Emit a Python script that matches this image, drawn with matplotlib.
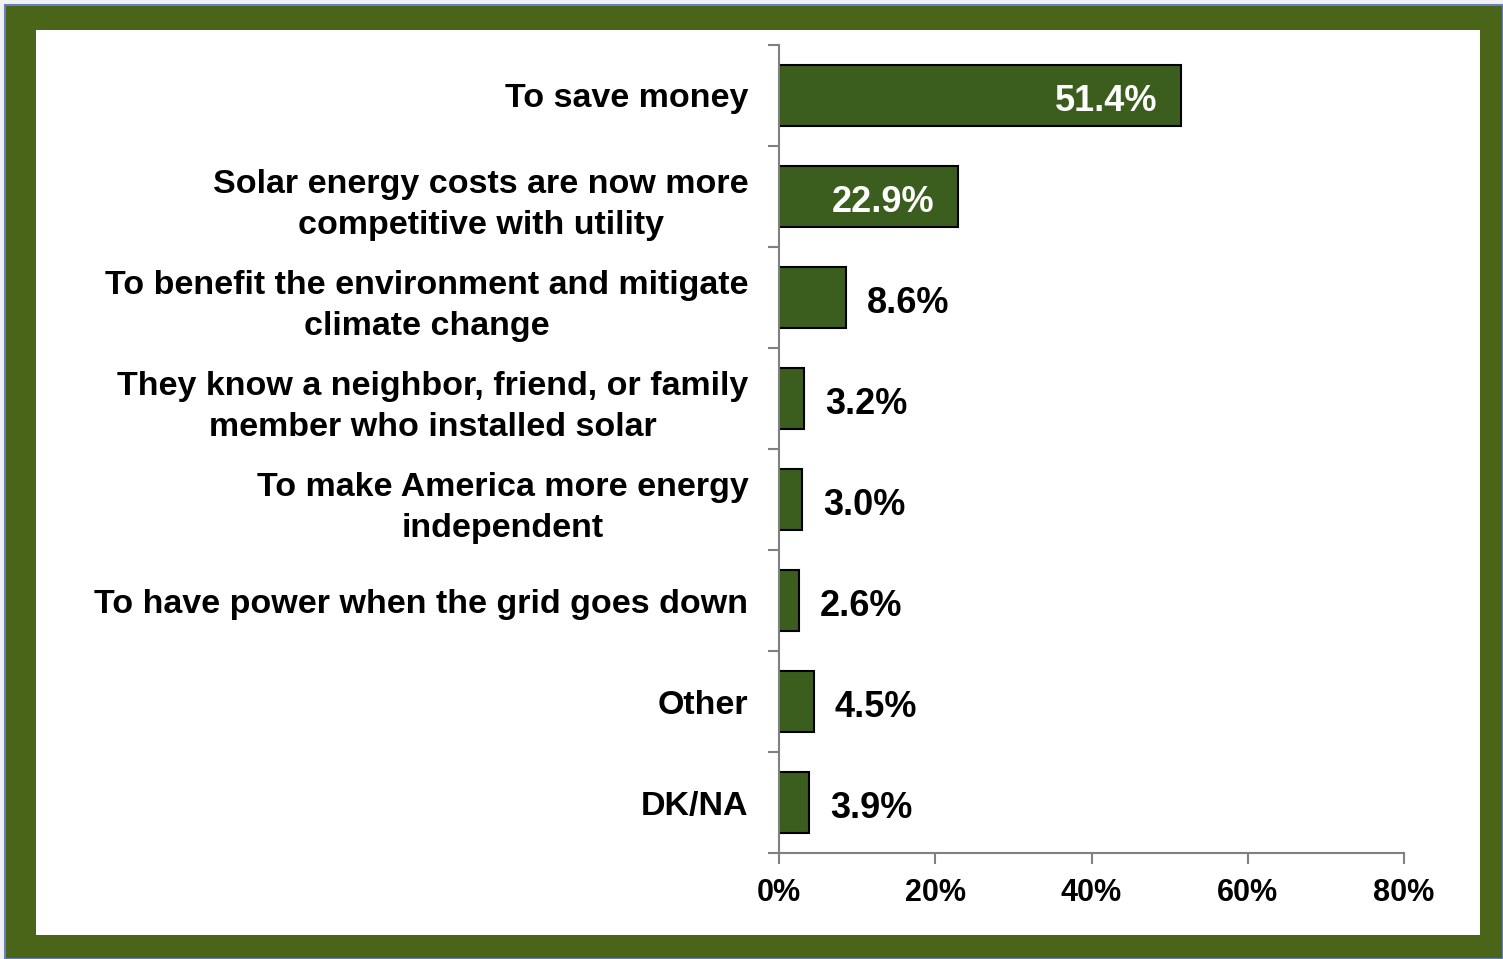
import matplotlib.pyplot as plt
from matplotlib.patches import Rectangle
import numpy as np

reasons = ['To save money',
           'Solar energy costs are now more\ncompetitive with utility',
           'To benefit the environment and mitigate\nclimate change',
           'They know a neighbor, friend, or family\nmember who installed solar',
           'To make America more energy\nindependent',
           'To have power when the grid goes down',
           'Other',
           'DK/NA']
shares = [51.4, 22.9, 8.6, 3.2, 3.0, 2.6, 4.5, 3.9]
xticks = [0, 20, 40, 60, 80]

plt.rcParams['font.family'] = ['Liberation Sans', 'DejaVu Sans']
frame_green = '#4a6418'
bar_green = '#3b5e1f'

fig = plt.figure(figsize=(15.03, 9.59), dpi=100)
fig.patch.set_facecolor('#f2f2f2')

# green frame with thin blue outline, drawn behind the axes
fig.patches.append(Rectangle((5 / 1503, 0), 1 - 5 / 1503, 1 - 5 / 959, transform=fig.transFigure,
                             facecolor=frame_green, edgecolor='#6a7fc0', linewidth=1.5, zorder=-2))
fig.patches.append(Rectangle((36 / 1503, 1 - 935 / 959), (1480 - 36) / 1503, (935 - 30) / 959,
                             transform=fig.transFigure, facecolor='white', edgecolor='none', zorder=-1))

ax = fig.add_axes([779 / 1503, 1 - 853 / 959, 625 / 1503, 808 / 959])
ax.set_facecolor('none')
y = np.arange(len(reasons))
ax.barh(y, shares, height=0.61, color=bar_green, edgecolor='black', linewidth=1.5)

ax.set_xlim(0, 80)
ax.set_ylim(len(reasons) - 0.5, -0.5)
ax.set_xticks(xticks)
ax.set_xticklabels([f'{t}%' for t in xticks], fontsize=22, fontweight='bold')
ax.set_yticks(np.arange(len(reasons) + 1) - 0.5)
ax.set_yticklabels([])
ax.set_yticks(y, minor=True)
ax.set_yticklabels(reasons, minor=True, fontsize=24.5, fontweight='bold', ha='right')
ax.tick_params(axis='y', which='minor', length=0, pad=22)
ax.tick_params(axis='y', which='major', length=8, color='#808080', width=1.5)
ax.tick_params(axis='x', length=8, color='#808080', width=1.5, pad=10)
for lab in ax.get_yticklabels(minor=True):
    lab.set_multialignment('center')
    lab.set_linespacing(1.42)

for s in ['top', 'right']:
    ax.spines[s].set_visible(False)
for s in ['left', 'bottom']:
    ax.spines[s].set_color('#808080')
    ax.spines[s].set_linewidth(1.5)

for yi, v in zip(y, shares):
    if v > 20:
        ax.annotate(f'{v}%', (v, yi), xytext=(-17, -4), textcoords='offset points',
                    color='white', fontsize=26, fontweight='bold', va='center', ha='right')
    else:
        ax.annotate(f'{v}%', (v, yi), xytext=(15, -4), textcoords='offset points',
                    color='black', fontsize=26, fontweight='bold', va='center', ha='left')

fig.savefig('out.png', dpi=100, facecolor=fig.get_facecolor())
